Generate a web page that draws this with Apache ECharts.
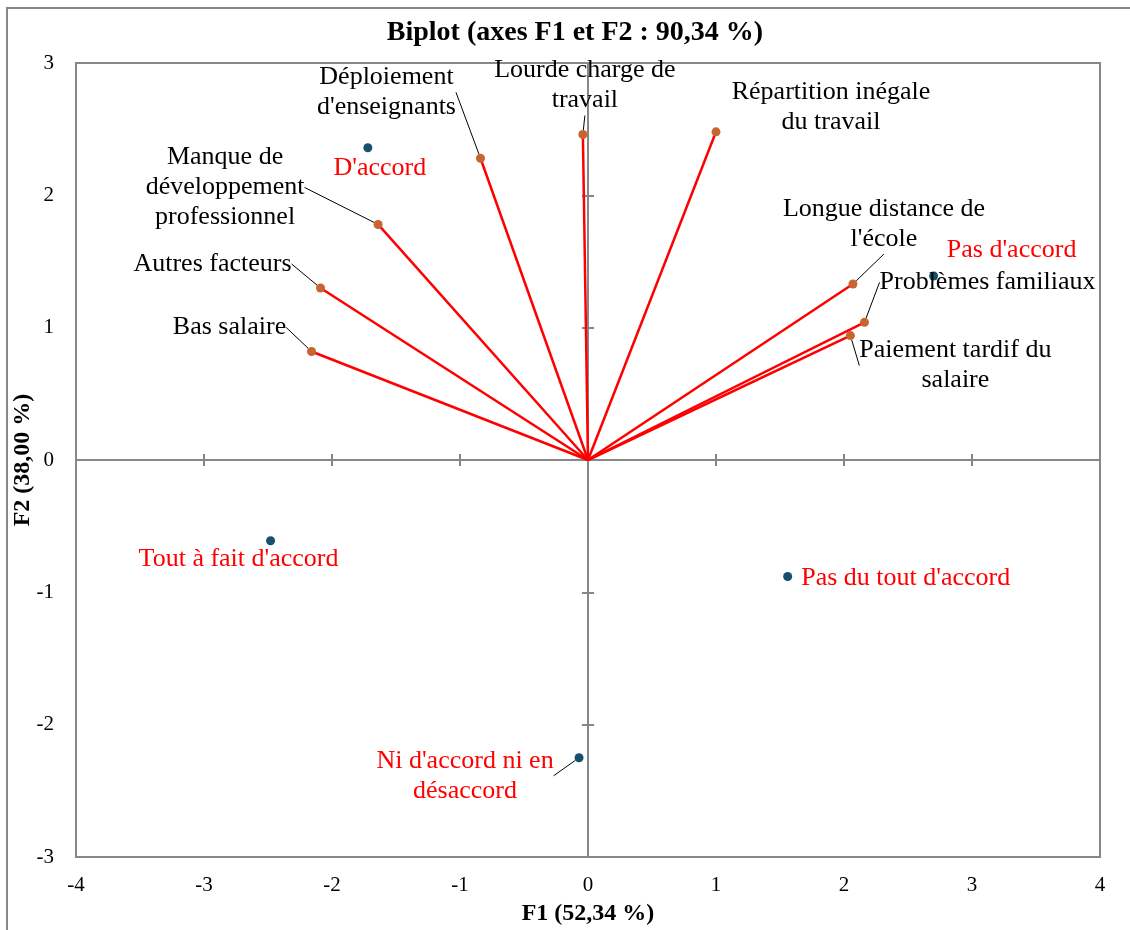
<!DOCTYPE html>
<html>
<head>
<meta charset="utf-8">
<title>Biplot</title>
<script src="https://cdn.jsdelivr.net/npm/echarts@6/dist/echarts.min.js"></script>
<style>
html,body{margin:0;padding:0;background:#fff;}
#main{width:1130px;height:930px;}
</style>
</head>
<body>
<div id="main"></div>
<script>
// variables (vecteurs)
var varNames = ["Déploiement\nd'enseignants", "Lourde charge de\ntravail", "Répartition inégale\ndu travail",
	"Manque de\ndéveloppement\nprofessionnel", "Autres facteurs", "Bas salaire",
	"Longue distance de\nl'école", "Problèmes familiaux", "Paiement tardif du\nsalaire"];
var varF1 = [-0.84, -0.04, 1.00, -1.64, -2.09, -2.16, 2.07, 2.16, 2.05];
var varF2 = [2.28, 2.46, 2.48, 1.78, 1.30, 0.82, 1.33, 1.04, 0.94];

// observations (modalités)
var obsNames = ["D'accord", "Pas d'accord", "Tout à fait d'accord", "Pas du tout d'accord", "Ni d'accord ni en\ndésaccord"];
var obsF1 = [-1.72, 2.70, -2.48, 1.56, -0.07];
var obsF2 = [2.36, 1.39, -0.61, -0.88, -2.25];

var xTicks = [-4, 4];
var yTicks = [-3, 3];

// position des étiquettes (décalage en px) et trait de rappel
var varLabelOffset = [[-94, -66], [2, -49], [115, -25], [-153, -37], [-108, -24], [-82, -24], [31, -60], [123, -40], [105, 30]];
var varLeader = [true, true, false, true, true, true, true, true, true];
var obsLabelOffset = [[12, 20], [78, -26], [-32, 18], [118, 2], [-114, 18]];
var obsLeader = [false, false, false, false, true];

var font = 'Liberation Serif';
var grey = '#878787';

var myChart = echarts.init(document.getElementById('main'));

// un segment origine -> point pour chaque variable
var vecSeries = varNames.map(function(n, i){
	return {
		type: 'line',
		data: [[0, 0], [varF1[i], varF2[i]]],
		showSymbol: false,
		silent: true,
		z: 3,
		lineStyle: {color: '#ff0000', width: 2.5}
	};
});

var varData = varNames.map(function(n, i){
	return {
		name: n,
		value: [varF1[i], varF2[i]],
		label: {offset: varLabelOffset[i]},
		labelLine: {show: varLeader[i]}
	};
});
var obsData = obsNames.map(function(n, i){
	return {
		name: n,
		value: [obsF1[i], obsF2[i]],
		label: {offset: obsLabelOffset[i]},
		labelLine: {show: obsLeader[i]}
	};
});

function valAxis(min, max, extra){
	var a = {
		type: 'value', min: min, max: max, interval: 1,
		splitLine: {show: false},
		axisLine: {show: true, onZero: true, lineStyle: {color: grey, width: 2}},
		axisTick: {show: true, length: 6, lineStyle: {color: grey, width: 2}},
		axisLabel: {show: false}
	};
	return Object.assign(a, extra);
}

var option = {
	animation: false,
	backgroundColor: '#fff',
	title: {
		text: 'Biplot (axes F1 et F2 : 90,34 %)',
		left: 570, top: 14, textAlign: 'center',
		textStyle: {fontFamily: font, fontSize: 28, fontWeight: 'bold', color: '#000'}
	},
	graphic: [{
		type: 'rect', shape: {x: 7, y: 8, width: 1140, height: 940},
		style: {fill: null, stroke: grey, lineWidth: 2}, silent: true
	}],
	grid: {
		left: 76, right: 30, top: 63, bottom: 73,
		containLabel: false, outerBoundsMode: 'none',
		show: true, borderColor: grey, borderWidth: 2
	},
	xAxis: [
		valAxis(xTicks[0], xTicks[1], {position: 'bottom', axisTick: {show: true, inside: true, length: 6, lineStyle: {color: grey, width: 2}}}),
		valAxis(xTicks[0], xTicks[1], {position: 'bottom'}),
		valAxis(xTicks[0], xTicks[1], {
			position: 'bottom',
			axisLine: {show: false, onZero: false},
			axisTick: {show: false},
			axisLabel: {show: true, margin: 18, fontFamily: font, fontSize: 21, color: '#000'},
			name: 'F1 (52,34 %)', nameLocation: 'middle', nameGap: 45, nameMoveOverlap: false,
			nameTextStyle: {fontFamily: font, fontSize: 24, fontWeight: 'bold', color: '#000'}
		})
	],
	yAxis: [
		valAxis(yTicks[0], yTicks[1], {position: 'left', axisTick: {show: true, inside: true, length: 6, lineStyle: {color: grey, width: 2}}}),
		valAxis(yTicks[0], yTicks[1], {position: 'left'}),
		valAxis(yTicks[0], yTicks[1], {
			position: 'left',
			axisLine: {show: false, onZero: false},
			axisTick: {show: false},
			axisLabel: {show: true, margin: 22, fontFamily: font, fontSize: 21, color: '#000'},
			name: 'F2 (38,00 %)', nameLocation: 'middle', nameGap: 41, nameMoveOverlap: false,
			nameTextStyle: {fontFamily: font, fontSize: 24, fontWeight: 'bold', color: '#000'}
		})
	],
	series: vecSeries.concat([
		{
			type: 'scatter',
			data: varData,
			symbolSize: 9,
			z: 5,
			itemStyle: {color: '#c8642f', opacity: 1},
			label: {
				show: true, position: 'inside', formatter: '{b}',
				fontFamily: font, fontSize: 26, lineHeight: 30, color: '#000', align: 'center', verticalAlign: 'middle'
			},
			labelLine: {lineStyle: {color: '#000', width: 1}}
		},
		{
			type: 'scatter',
			data: obsData,
			symbolSize: 9,
			z: 5,
			itemStyle: {color: '#17506e', opacity: 1},
			label: {
				show: true, position: 'inside', formatter: '{b}',
				fontFamily: font, fontSize: 26, lineHeight: 30, color: '#ff0000', align: 'center', verticalAlign: 'middle'
			},
			labelLine: {lineStyle: {color: '#000', width: 1}}
		}
	])
};
myChart.setOption(option);
</script>
</body>
</html>
